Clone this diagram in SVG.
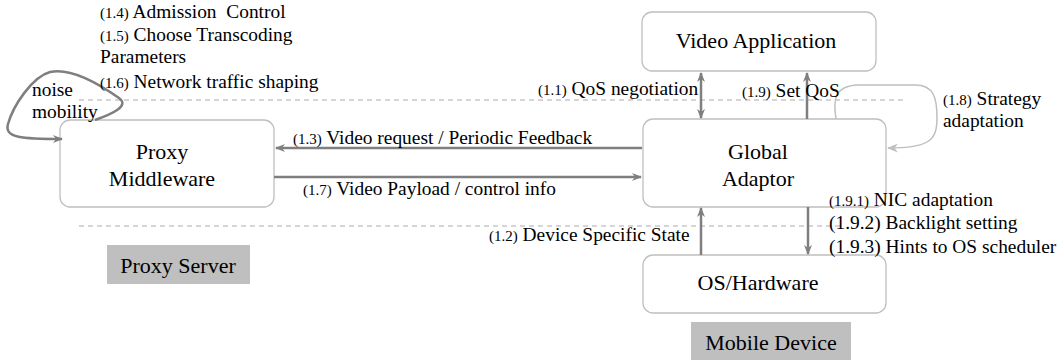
<svg xmlns="http://www.w3.org/2000/svg" width="1063" height="360" viewBox="0 0 1063 360">
<style>
text{font-family:"Liberation Serif","Times New Roman",serif;fill:#000}
.node rect{fill:#fff;stroke:#bfbfbf;stroke-width:1.3}
.nt{font-size:22px;text-anchor:middle}
.lt{font-size:19.4px}
.p{font-size:15px}
.tag{fill:#bfbfbf}
.dash{stroke:#c8c8c8;stroke-width:1.3;stroke-dasharray:5 4;fill:none}
.c{stroke:#7f7f7f;stroke-width:2.5;fill:none}
.cl{stroke:#bfbfbf;stroke-width:1.5;fill:none}
</style>
<defs>
<marker id="ah" viewBox="0 0 10 8" refX="9" refY="4" markerWidth="10" markerHeight="8" markerUnits="userSpaceOnUse" orient="auto-start-reverse">
<path d="M0,0 L10,4 L0,8 L3,4 z" fill="#7f7f7f"/>
</marker>
<marker id="ahl" viewBox="0 0 10 8" refX="9" refY="4" markerWidth="11" markerHeight="9" markerUnits="userSpaceOnUse" orient="auto">
<path d="M0,0 L10,4 L0,8 L3,4 z" fill="#bfbfbf"/>
</marker>
</defs>
<g id="separators">
<line class="dash" x1="79" y1="100" x2="905" y2="100"/>
<line class="dash" x1="79" y1="226" x2="840" y2="226"/>
</g>
<g id="proxy-server-label">
<rect class="tag" x="107" y="245" width="143" height="39"/>
<text class="nt" x="178" y="273">Proxy Server</text>
</g>
<g id="mobile-device-label">
<rect class="tag" x="691" y="322" width="160" height="38"/>
<text class="nt" x="771" y="350">Mobile Device</text>
</g>
<g id="video-application" class="node">
<rect x="642" y="12" width="234" height="59" rx="10"/>
<text class="nt" x="756" y="48">Video Application</text>
</g>
<g id="global-adaptor" class="node">
<rect x="643" y="119" width="243" height="88" rx="10"/>
<text class="nt" x="758" y="159">Global</text>
<text class="nt" x="758" y="186">Adaptor</text>
</g>
<g id="os-hardware" class="node">
<rect x="643" y="255" width="243" height="58" rx="10"/>
<text class="nt" x="758" y="290">OS/Hardware</text>
</g>
<g id="proxy-middleware" class="node">
<rect x="60" y="120" width="214" height="87" rx="10"/>
<text class="nt" x="162" y="159">Proxy</text>
<text class="nt" x="162" y="186">Middleware</text>
</g>
<g id="connectors">
<line class="c" x1="701" y1="73" x2="701" y2="118" marker-start="url(#ah)" marker-end="url(#ah)"/>
<line class="c" x1="807" y1="119" x2="807" y2="73" marker-end="url(#ah)"/>
<line class="c" x1="642" y1="148" x2="276" y2="148" marker-end="url(#ah)"/>
<line class="c" x1="274" y1="177" x2="641" y2="177" marker-end="url(#ah)"/>
<line class="c" x1="701" y1="255" x2="701" y2="208" marker-end="url(#ah)"/>
<line class="c" x1="808" y1="207" x2="808" y2="254" marker-end="url(#ah)"/>
<path class="cl" d="M836 119 C833 100 834 86 858 85 L915 85 C934 85 937 98 937 118 C937 140 930 148 888 148" marker-end="url(#ahl)"/>
<path class="c" d="M95 120 C112 114 130 106 119 98 C102 86 72 67 50 72 C32 77 13 106 8 124 C4 138 22 139 62 139" marker-end="url(#ah)"/>
</g>
<g id="labels" class="lt">
<text x="100" y="18"><tspan class="p">(1.4)</tspan> Admission&#160; Control</text>
<text x="100" y="41"><tspan class="p">(1.5)</tspan> Choose Transcoding</text>
<text x="100" y="63">Parameters</text>
<text x="100" y="88"><tspan class="p">(1.6)</tspan> Network traffic shaping</text>
<text x="32" y="96">noise</text>
<text x="32" y="118">mobility</text>
<text x="538" y="95"><tspan class="p">(1.1)</tspan> QoS negotiation</text>
<text x="742" y="97"><tspan class="p">(1.9)</tspan> Set QoS</text>
<text x="943" y="105"><tspan class="p">(1.8)</tspan> Strategy</text>
<text x="943" y="127">adaptation</text>
<text x="293" y="144"><tspan class="p">(1.3)</tspan> Video request / Periodic Feedback</text>
<text x="303" y="195"><tspan class="p">(1.7)</tspan> Video Payload / control info</text>
<text x="489" y="241"><tspan class="p">(1.2)</tspan> Device Specific State</text>
<text x="829" y="206"><tspan class="p">(1.9.1)</tspan> NIC adaptation</text>
<text x="829" y="229">(1.9.2) Backlight setting</text>
<text x="829" y="253">(1.9.3) Hints to OS scheduler</text>
</g>
</svg>
